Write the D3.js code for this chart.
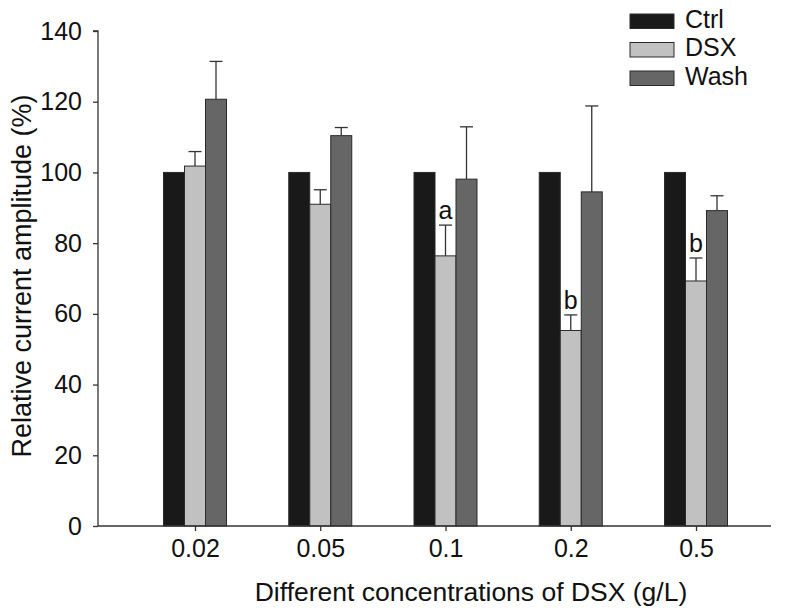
<!DOCTYPE html>
<html><head><meta charset="utf-8">
<script src="https://cdn.jsdelivr.net/npm/d3@7"></script>
<style>body{margin:0;background:#fff}svg{display:block}text{font-family:"Liberation Sans",Arial,sans-serif;fill:#111}</style>
</head><body><svg id="c" width="796" height="613"></svg>
<script>
const categories = ["0.02","0.05","0.1","0.2","0.5"];
const seriesNames = ["Ctrl","DSX","Wash"];
const ctrlValues = [100,100,100,100,100];
const dsxValues = [101.8,91.0,76.4,55.3,69.3];
const dsxErrors = [4.1,4.1,8.7,4.4,6.5];
const washValues = [120.7,110.4,98.1,94.5,89.2];
const washErrors = [10.7,2.3,14.8,24.3,4.2];
const ctrlErrors = [0,0,0,0,0];
const sigLabels = ["","","a","b","b"];
const yTicks = [0,20,40,60,80,100,120,140];
const colors = ["#191919","#c1c1c1","#666666"];

const svg = d3.select("#c");
const y = d3.scaleLinear().domain([0,140]).range([526,31]);
const x = d3.scalePoint().domain(categories).range([195,696]);
const sub = d3.scaleBand().domain(seriesNames).range([-31.5,31.5]).padding(0);

const series = [
  {name:"Ctrl", vals:ctrlValues, errs:ctrlErrors},
  {name:"DSX", vals:dsxValues, errs:dsxErrors},
  {name:"Wash", vals:washValues, errs:washErrors}
];

series.forEach((s,si)=>{
  const g = svg.append("g");
  g.selectAll("rect").data(categories).join("rect")
    .attr("x", c=>x(c)+sub(s.name))
    .attr("y", (c,i)=>y(s.vals[i]))
    .attr("width", sub.bandwidth())
    .attr("height", (c,i)=>y(0)-y(s.vals[i]))
    .attr("fill", colors[si])
    .attr("stroke", "#2a2a2a").attr("stroke-width", 1);
  categories.forEach((c,i)=>{
    if(!s.errs[i]) return;
    const cx = x(c)+sub(s.name)+sub.bandwidth()/2;
    const y1 = y(s.vals[i]), y2 = y(s.vals[i]+s.errs[i]);
    g.append("line").attr("x1",cx).attr("x2",cx).attr("y1",y1).attr("y2",y2).attr("stroke","#333").attr("stroke-width",1.3);
    g.append("line").attr("x1",cx-6.5).attr("x2",cx+6.5).attr("y1",y2).attr("y2",y2).attr("stroke","#333").attr("stroke-width",1.3);
  });
});

svg.append("g").selectAll("text").data(categories).join("text")
  .attr("x", c=>x(c)+sub("DSX")+sub.bandwidth()/2)
  .attr("y", (c,i)=>y(dsxValues[i]+dsxErrors[i])-6)
  .attr("text-anchor","middle").attr("font-size",25)
  .text((c,i)=>sigLabels[i]);

const yAxis = d3.axisLeft(y).tickValues(yTicks).tickSize(5).tickPadding(11);
const ya = svg.append("g").attr("transform","translate(98,0)").call(yAxis);
ya.select(".domain").attr("stroke","#333").attr("stroke-width",1.3).attr("d","M-5,31H0V526");
ya.selectAll(".tick line").attr("stroke","#333").attr("stroke-width",1.3);
ya.selectAll(".tick text").attr("font-size",25).attr("fill","#111").attr("font-family","Liberation Sans, Arial, sans-serif");

const xAxis = d3.axisBottom(x).tickSize(5).tickPadding(8);
const xa = svg.append("g").attr("transform","translate(0,526)").call(xAxis);
xa.select(".domain").attr("stroke","#333").attr("stroke-width",1.3).attr("d","M98,0H771");
xa.selectAll(".tick line").attr("stroke","#333").attr("stroke-width",1.3);
xa.selectAll(".tick text").attr("font-size",25).attr("fill","#111").attr("font-family","Liberation Sans, Arial, sans-serif");

svg.append("text").attr("transform","translate(31,276) rotate(-90)")
  .attr("text-anchor","middle").attr("font-size",27).text("Relative current amplitude (%)");
svg.append("text").attr("x",471).attr("y",601)
  .attr("text-anchor","middle").attr("font-size",26.5).text("Different concentrations of DSX (g/L)");

const lg = svg.append("g").attr("transform","translate(630,14)");
seriesNames.forEach((n,i)=>{
  lg.append("rect").attr("x",0).attr("y",i*28.5).attr("width",44).attr("height",14.5)
    .attr("fill",colors[i]).attr("stroke","#2a2a2a").attr("stroke-width",1);
  lg.append("text").attr("x",55).attr("y",i*28.5+13.5).attr("font-size",25).text(n);
});
</script></body></html>
